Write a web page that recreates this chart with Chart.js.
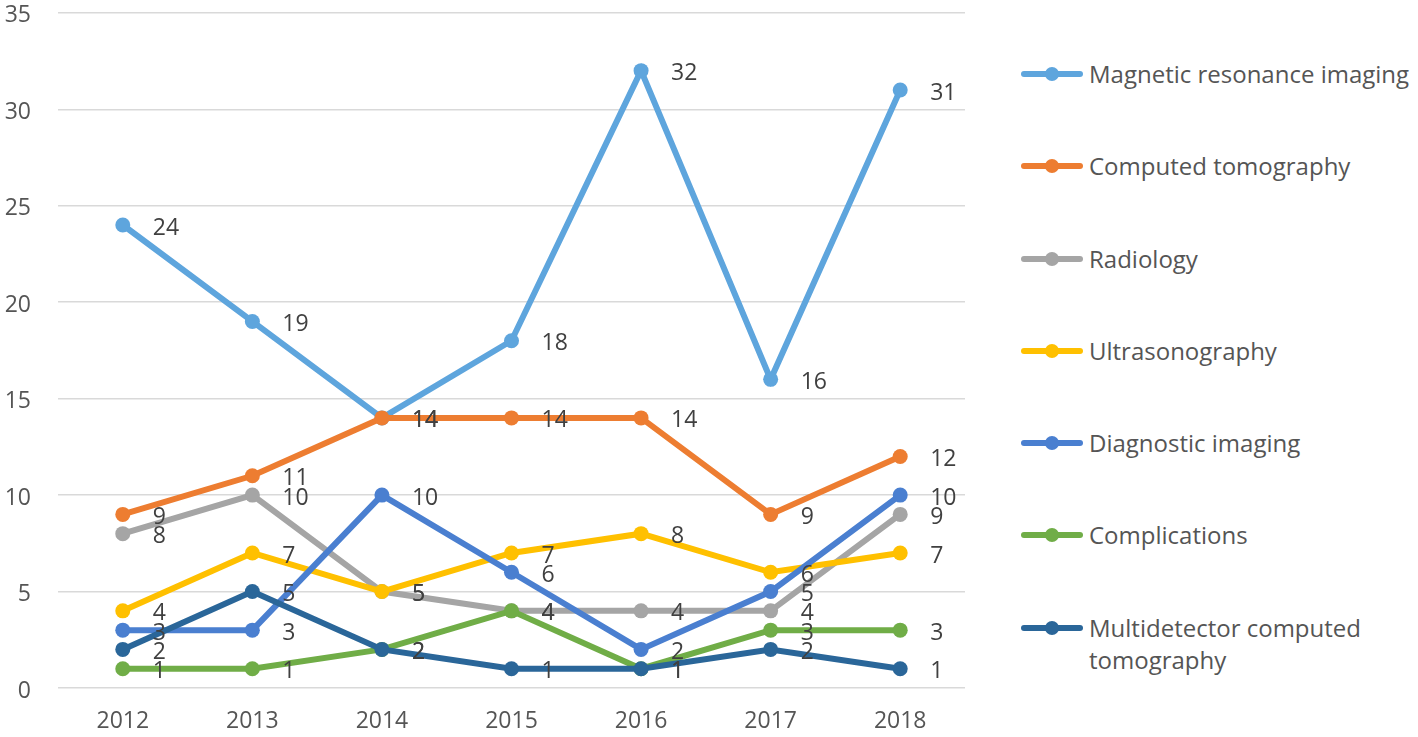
<!DOCTYPE html>
<html>
<head>
<meta charset="utf-8">
<script src="https://cdn.jsdelivr.net/npm/chart.js@4.4.1/dist/chart.umd.min.js"></script>
<style>
  html, body { margin: 0; padding: 0; background: #fff; }
  body { width: 1418px; height: 737px; position: relative; overflow: hidden; font-family: "Open Sans", sans-serif; }
  #wrap { position: absolute; left: 0; top: -28px; width: 990px; height: 765px; }
  #legend { position: absolute; left: 1020px; top: 0; width: 398px; height: 737px; }
  .item { position: absolute; left: 0; display: flex; align-items: flex-start; }
  .mark { position: relative; width: 64px; height: 32px; flex: none; }
  .mark .ln { position: absolute; left: 1px; right: 1px; top: 13px; height: 6px; border-radius: 3px; }
  .mark .dot { position: absolute; left: 25px; top: 9px; width: 14px; height: 14px; border-radius: 7px; }
  .txt { margin-left: 5px; font-size: 24px; line-height: 32px; color: #555; white-space: nowrap; }
</style>
</head>
<body>
<div id="wrap"><canvas id="chart"></canvas></div>
<div id="legend"></div>
<script>
// Dados
const years = ['2012', '2013', '2014', '2015', '2016', '2017', '2018'];
const seriesNames = [
    'Magnetic resonance imaging',
    'Computed tomography',
    'Radiology',
    'Ultrasonography',
    'Diagnostic imaging',
    'Complications',
    'Multidetector computed tomography'
];
const mri = [24, 19, 14, 18, 32, 16, 31];
const ct = [9, 11, 14, 14, 14, 9, 12];
const radiology = [8, 10, 5, 4, 4, 4, 9];
const ultrasonography = [4, 7, 5, 7, 8, 6, 7];
const diagnostic = [3, 3, 10, 6, 2, 5, 10];
const complications = [1, 1, 2, 4, 1, 3, 3];
const mdct = [2, 5, 2, 1, 1, 2, 1];
const yTicks = [0, 5, 10, 15, 20, 25, 30, 35];

const seriesValues = [mri, ct, radiology, ultrasonography, diagnostic, complications, mdct];
const colors = ['#5EA5DD', '#ED7D31', '#A5A5A5', '#FFC000', '#4A7FD0', '#70AD47', '#2A6699'];
const FONT = '"Open Sans", sans-serif';

// Rótulos de dados à direita de cada ponto
const pointLabels = {
    id: 'pointLabels',
    afterDatasetsDraw(chart) {
        const ctx = chart.ctx;
        ctx.save();
        ctx.font = '23px ' + FONT;
        ctx.fillStyle = '#404040';
        ctx.textAlign = 'left';
        ctx.textBaseline = 'middle';
        chart.data.datasets.forEach((ds, i) => {
            chart.getDatasetMeta(i).data.forEach((pt, j) => {
                ctx.fillText(String(ds.data[j]), pt.x + 30, pt.y + 3);
            });
        });
        ctx.restore();
    }
};

const datasets = seriesValues.map((vals, i) => ({
    label: seriesNames[i],
    data: vals,
    borderColor: colors[i],
    backgroundColor: colors[i],
    borderWidth: 6,
    pointRadius: 7.5,
    pointHoverRadius: 7.5,
    pointBorderWidth: 0,
    tension: 0,
    order: seriesValues.length - i // séries posteriores por cima, como no Excel
}));

new Chart(document.getElementById('chart'), {
    type: 'line',
    data: { labels: years, datasets: datasets },
    options: {
        responsive: true,
        maintainAspectRatio: false,
        animation: false,
        layout: { padding: { top: 0, right: 25, left: 0, bottom: 0 } },
        plugins: {
            legend: { display: false },
            tooltip: { enabled: false }
        },
        scales: {
            x: {
                offset: true,
                grid: { display: false, drawTicks: false },
                border: { display: false },
                ticks: { color: '#555', font: { family: FONT, size: 23 }, padding: 20, maxRotation: 0 },
                afterFit: s => { s.height = 49; }
            },
            y: {
                min: 0,
                max: 35,
                afterBuildTicks: s => { s.ticks = yTicks.map(v => ({ value: v })); },
                grid: { color: '#D9D9D9', lineWidth: 1.5, drawTicks: false },
                border: { display: false },
                ticks: { color: '#555', font: { family: FONT, size: 23 }, padding: 27, labelOffset: 3 },
                afterFit: s => { s.width = 58; }
            }
        }
    },
    plugins: [pointLabels]
});

// Legenda em HTML
const legend = document.getElementById('legend');
const legendTops = [58, 150, 243, 335, 427, 519, 612];
seriesNames.forEach((name, i) => {
    const item = document.createElement('div');
    item.className = 'item';
    item.style.top = legendTops[i] + 'px';
    const label = name === 'Multidetector computed tomography' ? 'Multidetector computed<br>tomography' : name;
    item.innerHTML = `
        <div class="mark"><div class="ln" style="background:${colors[i]}"></div><div class="dot" style="background:${colors[i]}"></div></div>
        <div class="txt">${label}</div>
    `;
    legend.appendChild(item);
});
</script>
</body>
</html>
